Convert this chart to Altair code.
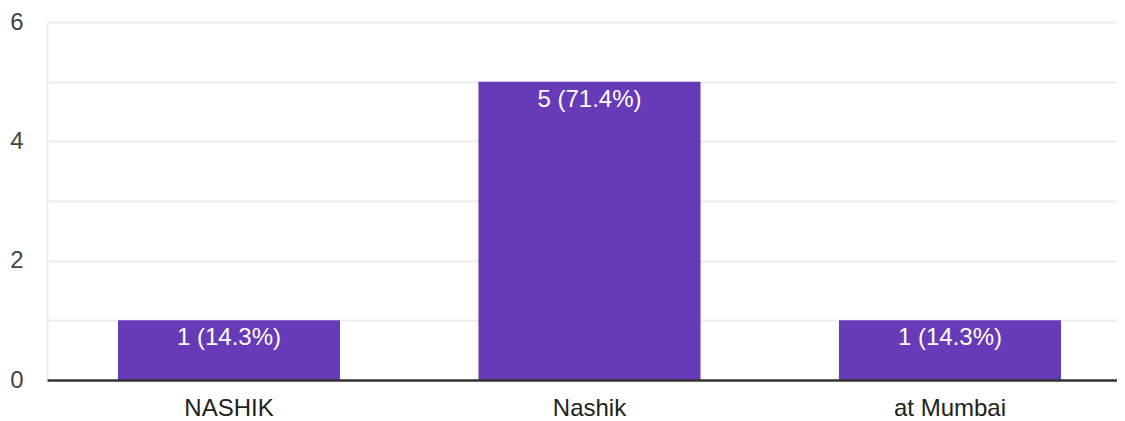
import altair as alt
import pandas as pd

categories = ["NASHIK", "Nashik", "at Mumbai"]
counts = [1, 5, 1]
percents = [14.3, 71.4, 14.3]

df = pd.DataFrame({
    "city": categories,
    "count": counts,
    "label": [f"{c} ({p}%)" for c, p in zip(counts, percents)],
})

FONT = "Arial, Liberation Sans, sans-serif"

xscale = alt.Scale(paddingInner=0.384, paddingOuter=0.1761, align=0.559)
yscale = alt.Scale(domain=[0, 6], nice=False, zero=True)

base = alt.Chart(df)

bars = base.mark_bar(color="#673ab7").encode(
    x=alt.X("city:N", sort=None, scale=xscale,
            axis=alt.Axis(title=None, labelAngle=0, ticks=False, labelPadding=16,
                          labelFontSize=24, labelFont=FONT, labelColor="#222222",
                          domainColor="#333333", domainWidth=2.5, zindex=1, grid=False)),
    y=alt.Y("count:Q", scale=yscale,
            axis=alt.Axis(title=None, values=[0, 1, 2, 3, 4, 5, 6], format="d",
                          labelExpr="datum.value % 2 == 0 ? format(datum.value, 'd') : ''",
                          ticks=False, labelPadding=24, labelFontSize=24, labelFont=FONT,
                          labelColor="#444444", domainColor="#ececec", domainWidth=2,
                          gridColor="#ececec", gridWidth=2)),
)

text = base.mark_text(color="white", fontSize=24, font=FONT, baseline="alphabetic", dy=25).encode(
    x=alt.X("city:N", sort=None, scale=xscale),
    y=alt.Y("count:Q", scale=yscale),
    text="label:N",
)

chart = (bars + text).properties(
    width=1070,
    height=358,
    autosize=alt.AutoSizeParams(type="none"),
    padding={"left": 39, "top": 14, "right": 0, "bottom": 41},
).configure_view(stroke=None)

chart.save("out.html", embed_options={"renderer": "svg", "actions": False})
